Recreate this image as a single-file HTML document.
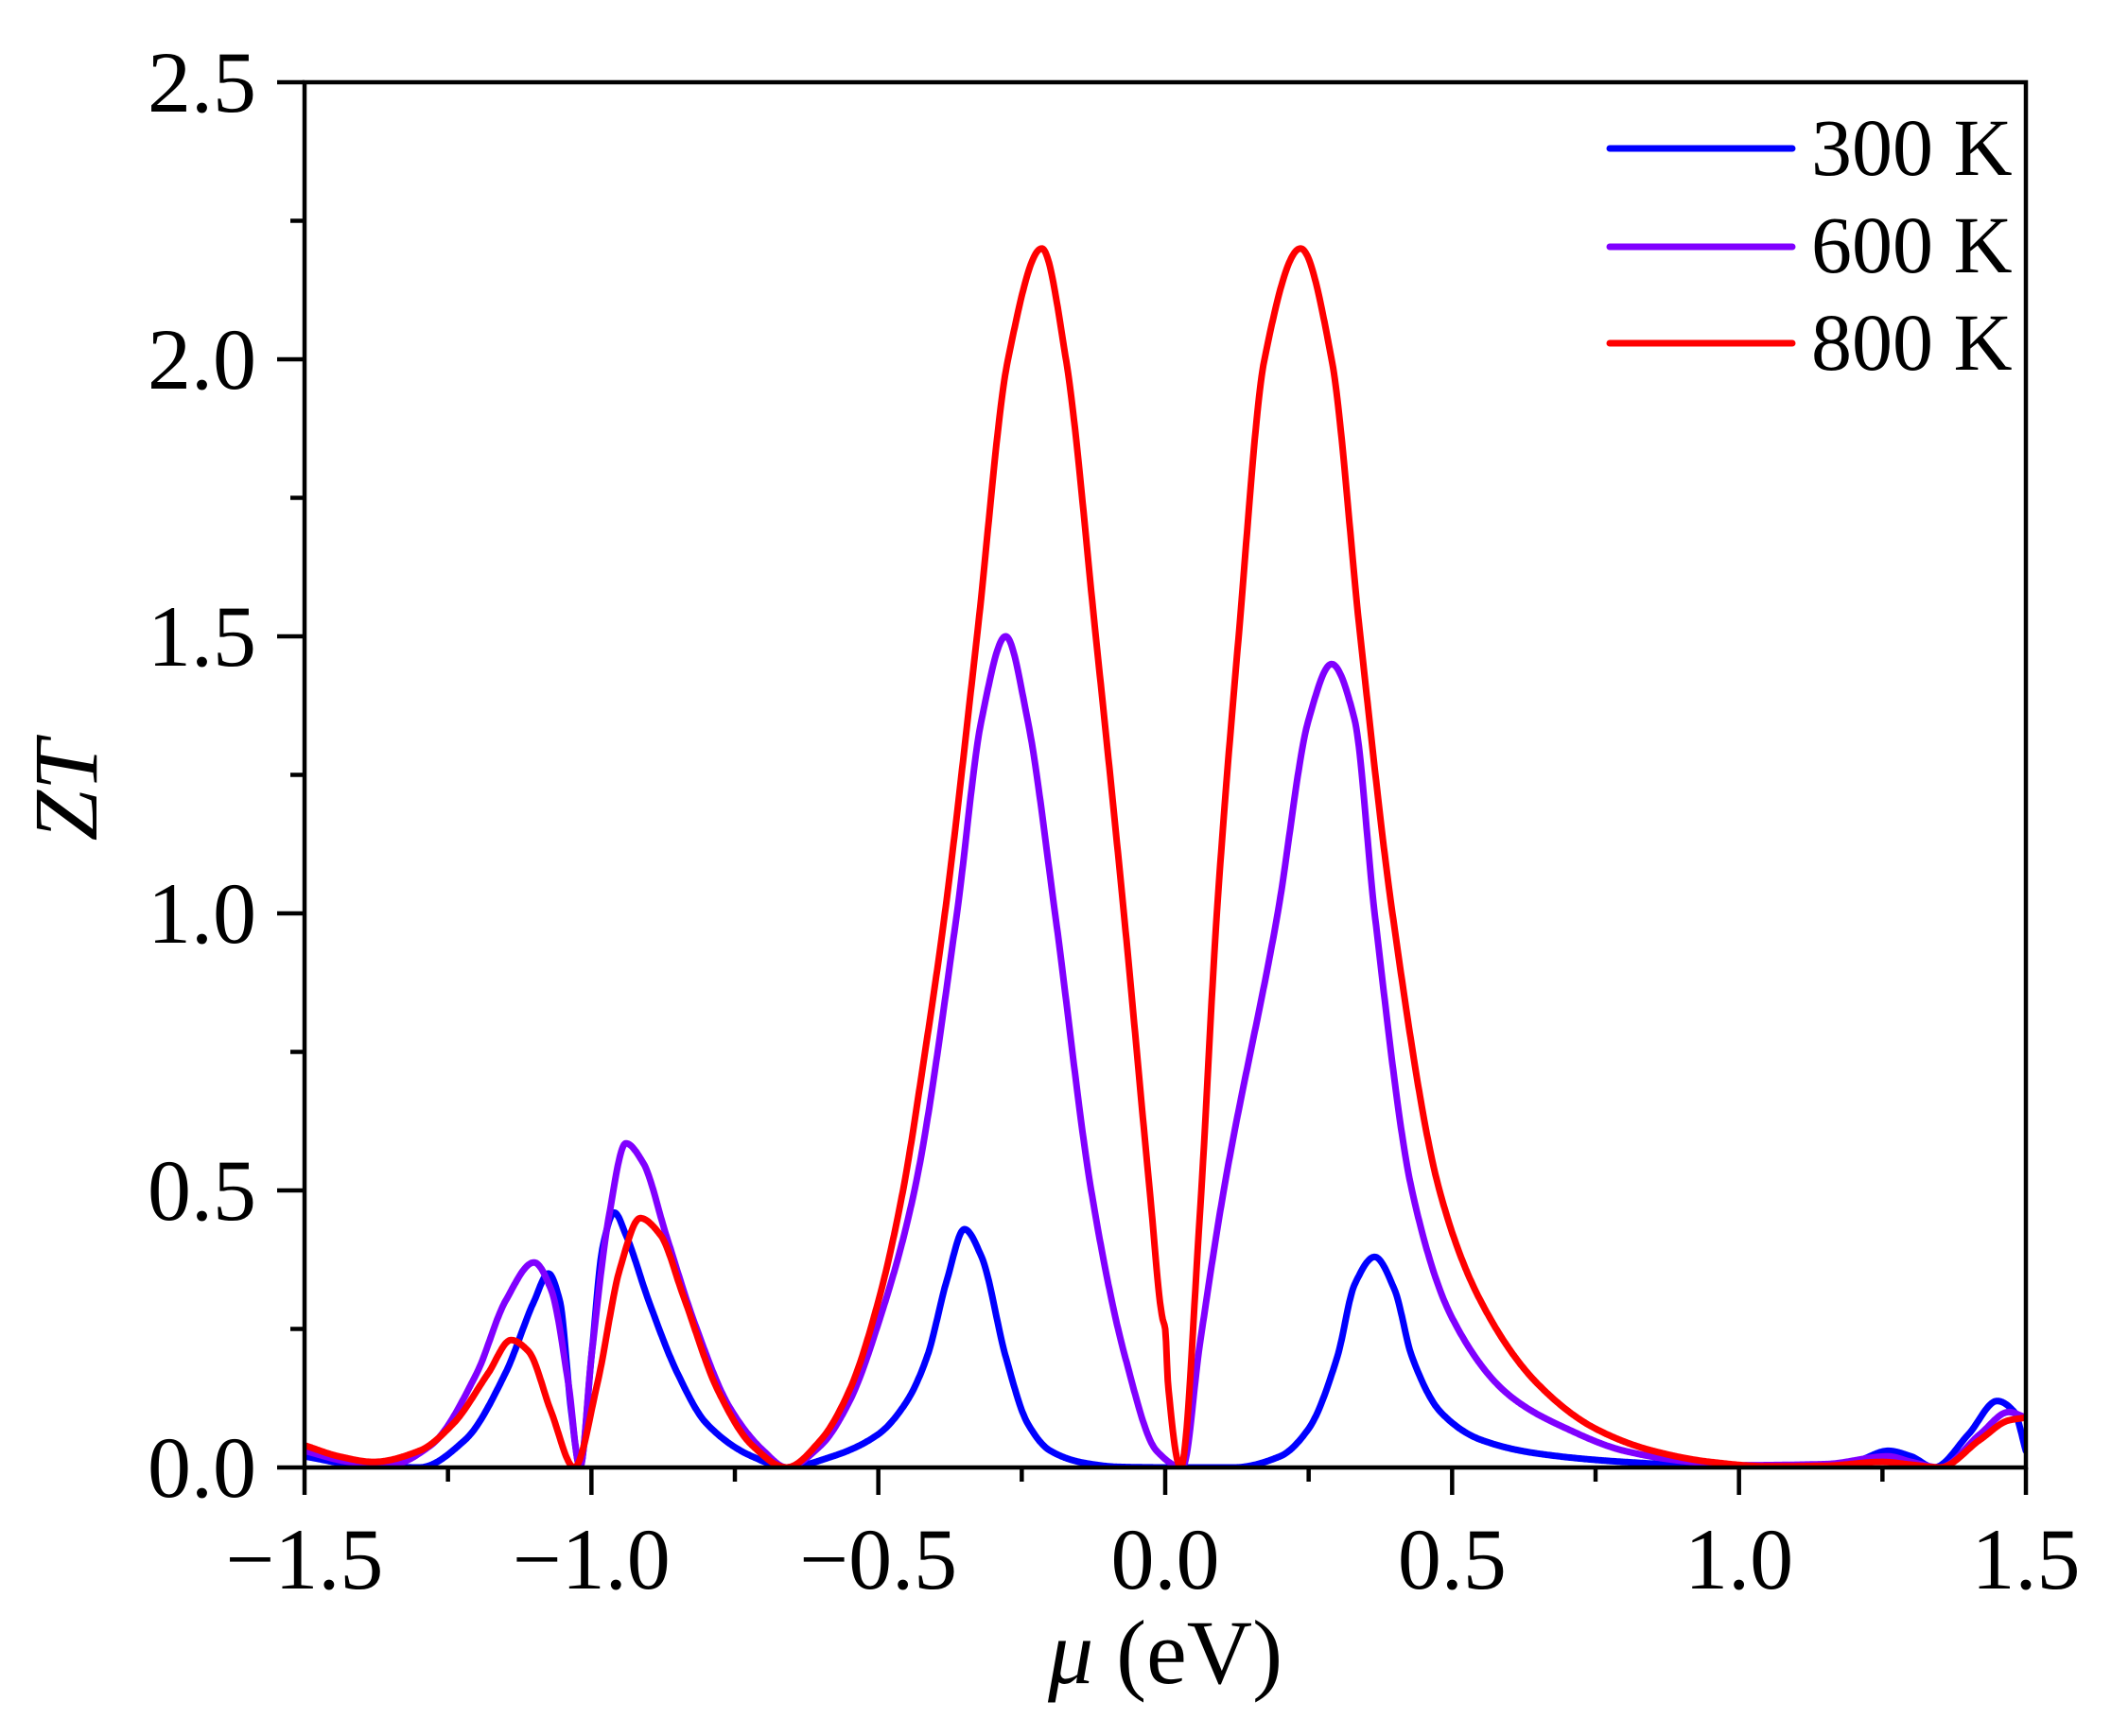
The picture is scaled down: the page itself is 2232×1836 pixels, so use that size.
<!DOCTYPE html>
<html><head><meta charset="utf-8"><style>
html,body{margin:0;padding:0;background:#fff;}
svg{display:block;}
text{font-family:"Liberation Serif",serif;fill:#000;}
</style></head><body>
<svg id="s" width="2232" height="1836" viewBox="0 0 2232 1836" xmlns="http://www.w3.org/2000/svg">
<defs><clipPath id="c"><rect x="322" y="87" width="1820" height="1466"/></clipPath></defs>
<g id="curves" clip-path="url(#c)" fill="none" stroke-width="7" stroke-linejoin="round" stroke-linecap="round"></g>
<g stroke="#000" stroke-width="4.5" fill="none">
<rect x="322" y="87" width="1820" height="1465"/>
</g>
<g id="ticks" stroke="#000" stroke-width="4.5"></g>
<g id="labels" font-size="92"></g>
<text x="1232" y="1780" font-size="96" text-anchor="middle"><tspan font-style="italic">μ</tspan> (eV)</text>
<text transform="translate(102,836) rotate(-90)" font-size="96" font-style="italic" text-anchor="middle">ZT</text>
<g stroke-width="7" stroke-linecap="round">
<line x1="1702" y1="157" x2="1895" y2="157" stroke="#0000ff"/>
<line x1="1702" y1="261" x2="1895" y2="261" stroke="#8000ff"/>
<line x1="1702" y1="363" x2="1895" y2="363" stroke="#ff0000"/>
</g>
<text x="1915" y="185" font-size="86">300 K</text>
<text x="1915" y="288" font-size="86">600 K</text>
<text x="1915" y="391" font-size="86">800 K</text>
</svg>
<script>
var NS="http://www.w3.org/2000/svg";
function X(x){return 322+(x+1.5)*606.67;}
function Y(y){return 1552-y*586;}
var tk=document.getElementById('ticks'),lb=document.getElementById('labels');
function ln(x1,y1,x2,y2){var l=document.createElementNS(NS,'line');l.setAttribute('x1',x1);l.setAttribute('y1',y1);l.setAttribute('x2',x2);l.setAttribute('y2',y2);tk.appendChild(l);}
function tx(x,y,s,a){var t=document.createElementNS(NS,'text');t.setAttribute('x',x);t.setAttribute('y',y);t.setAttribute('text-anchor',a);t.textContent=s;lb.appendChild(t);}
for(var i=0;i<=12;i++){var x=-1.5+i*0.25;var px=X(x);ln(px,1552,px,1552+(i%2==0?29:15));
 if(i%2==0){var s=(x<0?'\u2212':'')+Math.abs(x).toFixed(1);tx(px,1680,s,'middle');}}
for(var i=0;i<=10;i++){var y=i*0.25;var py=Y(y);ln(322,py,322-(i%2==0?29:15),py);
 if(i%2==0){tx(271,py+31,y.toFixed(1),'end');}}
var R=[[-1.5,.04],[-1.44,.02],[-1.38,.01],[-1.3,.03],[-1.24,.08],[-1.18,.17],[-1.14,.23],[-1.11,.21],[-1.07,.1],[-1.03,0],[-0.99,.15],[-0.95,.36],[-0.915,.45],[-0.88,.42],[-0.84,.31],[-0.78,.14],[-0.72,.04],[-0.66,0],[-0.6,.05],[-0.55,.14],[-0.5,.3],[-0.457,.5],[-0.42,.74],[-0.384,1.0],[-0.328,1.5],[-0.274,2.0],[-0.215,2.2],[-0.173,2.0],[-0.121,1.5],[-0.072,1.0],[-0.027,.5],[-0.005,.27],[0,.25],[0.005,.15],[0.027,0],[0.06,.45],[0.09,1.0],[0.128,1.5],[0.173,2.0],[0.236,2.2],[0.29,2.0],[0.34,1.5],[0.396,1.0],[0.478,.5],[0.55,.3],[0.65,.15],[0.75,.07],[0.85,.03],[0.95,.01],[1.05,.002],[1.15,.003],[1.25,.01],[1.3,.005],[1.35,0],[1.42,.05],[1.47,.085],[1.5,.09]];
var P=[[-1.5,.03],[-1.42,.01],[-1.35,.005],[-1.28,.04],[-1.2,.17],[-1.15,.3],[-1.1,.37],[-1.07,.32],[-1.04,.15],[-1.02,0],[-1.0,.2],[-0.97,.45],[-0.94,.585],[-0.91,.55],[-0.87,.42],[-0.82,.26],[-0.76,.11],[-0.7,.03],[-0.66,0],[-0.6,.04],[-0.55,.12],[-0.5,.26],[-0.437,.5],[-0.363,1.0],[-0.32,1.35],[-0.278,1.5],[-0.24,1.35],[-0.192,1.0],[-0.129,.5],[-0.07,.2],[-0.015,.03],[0.03,0],[0.06,.22],[0.102,.5],[0.196,1.0],[0.25,1.35],[0.29,1.45],[0.33,1.35],[0.365,1.0],[0.43,.5],[0.5,.27],[0.6,.13],[0.7,.07],[0.8,.03],[0.9,.012],[1.0,.004],[1.15,.006],[1.26,.02],[1.3,.01],[1.35,0],[1.42,.06],[1.47,.1],[1.5,.09]];
var B=[[-1.5,.02],[-1.4,.003],[-1.3,0],[-1.22,.05],[-1.15,.17],[-1.1,.3],[-1.075,.35],[-1.055,.3],[-1.035,.1],[-1.02,0],[-1.0,.2],[-0.98,.4],[-0.96,.46],[-0.94,.42],[-0.9,.3],[-0.85,.17],[-0.8,.08],[-0.72,.02],[-0.66,0],[-0.58,.02],[-0.5,.06],[-0.45,.12],[-0.415,.2],[-0.38,.34],[-0.35,.43],[-0.32,.38],[-0.278,.2],[-0.24,.08],[-0.2,.03],[-0.14,.008],[-0.08,.001],[0,0],[0.12,0],[0.2,.02],[0.25,.07],[0.3,.2],[0.33,.33],[0.365,.38],[0.4,.32],[0.43,.2],[0.48,.1],[0.55,.05],[0.65,.025],[0.8,.01],[0.95,.003],[1.1,.002],[1.2,.01],[1.26,.03],[1.3,.02],[1.34,0],[1.4,.06],[1.45,.12],[1.48,.1],[1.5,.03]];
function mono(pts){var n=pts.length,x=pts.map(function(a){return a[0]}),y=pts.map(function(a){return a[1]});
 var d=[],m=[];for(var i=0;i<n-1;i++)d.push((y[i+1]-y[i])/(x[i+1]-x[i]));
 m[0]=d[0];m[n-1]=d[n-2];
 for(var i=1;i<n-1;i++){if(d[i-1]*d[i]<=0)m[i]=0;else{var w1=2*(x[i+1]-x[i])+(x[i]-x[i-1]),w2=(x[i+1]-x[i])+2*(x[i]-x[i-1]);m[i]=(w1+w2)/(w1/d[i-1]+w2/d[i]);}}
 return function(t){var k=0;while(k<n-2&&t>x[k+1])k++;var h=x[k+1]-x[k],s=(t-x[k])/h;
  var h00=2*s*s*s-3*s*s+1,h10=s*s*s-2*s*s+s,h01=-2*s*s*s+3*s*s,h11=s*s*s-s*s;
  return h00*y[k]+h10*h*m[k]+h01*y[k+1]+h11*h*m[k+1];};}
function path(pts,col){var f=mono(pts);var d='';
 for(var t=-1.5;t<=1.5001;t+=0.0015){var v=Math.max(0,f(Math.min(t,1.5)));d+=(d?'L':'M')+X(t).toFixed(1)+' '+Y(v).toFixed(1);}
 var e=document.createElementNS(NS,'path');e.setAttribute('d',d);e.setAttribute('stroke',col);document.getElementById('curves').appendChild(e);}
path(B,'#0000ff');path(P,'#8000ff');path(R,'#ff0000');
</script>
</body></html>
